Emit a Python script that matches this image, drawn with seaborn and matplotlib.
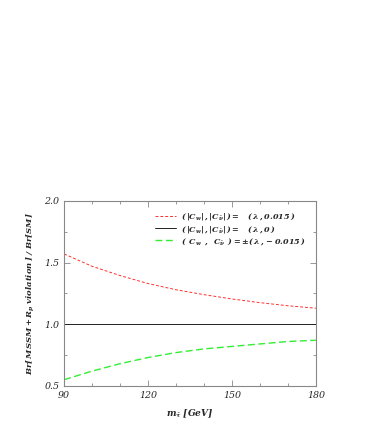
import numpy as np
import pandas as pd
import seaborn as sns
import matplotlib
matplotlib.use("Agg")
import matplotlib.pyplot as plt
from matplotlib.ticker import MultipleLocator

# stau mass [GeV]
m_stau = [90, 100, 110, 120, 130, 140, 150, 160, 170, 180]
# ratios
ratio_red = [1.57, 1.47, 1.395, 1.33, 1.28, 1.24, 1.205, 1.175, 1.15, 1.13]
ratio_black = [1.0] * 10
ratio_green = [0.55, 0.62, 0.68, 0.73, 0.77, 0.80, 0.82, 0.84, 0.86, 0.87]

labels = [
    r"$(\,|C_w|\,,|C_{\tilde{\nu}}|\,)=\quad(\,\lambda\,,0.015\,)$",
    r"$(\,|C_w|\,,|C_{\tilde{\nu}}|\,)=\quad(\,\lambda\,,0\,)$",
    r"$(\;\;C_w\;\;,\;\;C_{\tilde{\nu}}\;\;)=\pm(\,\lambda\,,-0.015\,)$",
]

df = pd.DataFrame({
    "m": m_stau * 3,
    "ratio": ratio_red + ratio_black + ratio_green,
    "case": [labels[0]] * 10 + [labels[1]] * 10 + [labels[2]] * 10,
})

sns.set_style("ticks")
plt.rcParams["font.family"] = ["DejaVu Serif"]
plt.rcParams["mathtext.fontset"] = "dejavuserif"
plt.rcParams["mathtext.default"] = "bfit"

fig = plt.figure(figsize=(3.82, 4.36), dpi=100)
ax = fig.add_axes([0.168, 0.115, 0.659, 0.424])

palette = {labels[0]: "#ff3030", labels[1]: "#222222", labels[2]: "#33ee33"}
sns.lineplot(data=df, x="m", y="ratio", hue="case", palette=palette, ax=ax, legend=False)
styles = [((0, (3, 2)), 0.7), ("-", 0.7), ((0, (5, 2.5)), 1.0)]
lines = ax.get_lines()
for line, (ls, lw), lab in zip(lines, styles, labels):
    line.set_linestyle(ls)
    line.set_linewidth(lw)
    line.set_label(lab)

ax.set_xlim(90, 180)
ax.set_ylim(0.5, 2.0)
ax.xaxis.set_major_locator(MultipleLocator(30))
ax.xaxis.set_minor_locator(MultipleLocator(10))
ax.yaxis.set_major_locator(MultipleLocator(0.5))
ax.yaxis.set_minor_locator(MultipleLocator(0.25))
ax.set_xticklabels([f"{int(v)}" for v in ax.get_xticks()])
ax.set_yticklabels([f"{v:.1f}" for v in ax.get_yticks()])
ax.tick_params(which="both", direction="in", top=True, right=True, color="#888888",
               labelsize=6.8, width=0.6)
ax.tick_params(which="major", length=4)
ax.tick_params(which="minor", length=2.5)
for lab in ax.get_xticklabels() + ax.get_yticklabels():
    lab.set_fontstyle("italic")
for s in ax.spines.values():
    s.set_color("#888888")
    s.set_linewidth(0.8)

ax.set_xlabel(r"$m_{\tilde{\tau}}\ [GeV]$", fontsize=6.5, labelpad=6)
ax.set_ylabel(r"$Br[\,MSSM + R_p\ violation\,]\ /\ Br[SM]$", fontsize=6, labelpad=6)

ax.legend(handles=lines, loc="upper right", frameon=False, fontsize=5.8, handlelength=2.6,
          handletextpad=0.6, labelspacing=0.15, borderaxespad=0.9)

fig.savefig("out.png", dpi=100)
